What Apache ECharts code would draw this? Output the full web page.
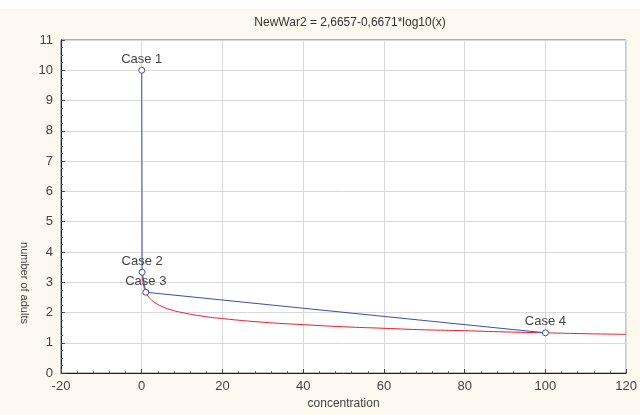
<!DOCTYPE html>
<html>
<head>
<meta charset="utf-8">
<script src="https://cdn.jsdelivr.net/npm/echarts@6/dist/echarts.min.js"></script>
<style>
  html, body { margin: 0; padding: 0; background: #fdf9f1; }
  #main { width: 640px; height: 415px; }
</style>
</head>
<body>
<div id="main"></div>
<script>
// cases (blue line with markers)
var caseNames = ["Case 1", "Case 2", "Case 3", "Case 4"];
var caseX = [0, 0.1, 1, 100];
var caseY = [10, 3.33, 2.67, 1.33];

// fitted curve (red)
var fitX = [0.1, 0.2, 0.3, 0.5, 0.7, 1, 1.5, 2, 3, 5, 7, 10, 15, 20, 30, 40, 50, 60, 70, 80, 90, 100, 110, 120];
var fitY = [3.33, 3.13, 3.02, 2.87, 2.77, 2.67, 2.55, 2.47, 2.35, 2.20, 2.10, 2.00, 1.88, 1.80, 1.68, 1.60, 1.53, 1.48, 1.43, 1.40, 1.36, 1.33, 1.30, 1.28];

var titleText = "NewWar2 = 2,6657-0,6671*log10(x)";

var chart = echarts.init(document.getElementById("main"));

var caseData = caseX.map(function (x, i) {
    return { value: [x, caseY[i]], name: caseNames[i] };
});
var fitData = fitX.map(function (x, i) { return [x, fitY[i]]; });

var font = "Liberation Sans, Arial, sans-serif";

var option = {
    backgroundColor: "#fdf9f1",
    animation: false,
    title: {
        text: titleText,
        left: 345,
        top: 12,
        textAlign: "center",
        textStyle: { fontSize: 12, fontWeight: "normal", color: "#333", fontFamily: font }
    },
    graphic: [
        { type: "rect", left: 0, top: 0, shape: { width: 640, height: 9 }, style: { fill: "#ffffff" }, z: -1 },
        {
            type: "text", x: 24, y: 283, rotation: -Math.PI / 2,
            style: { text: "number of adults", fill: "#444", font: "11px " + font, align: "center", verticalAlign: "middle" }
        }
    ],
    grid: {
        left: 61, right: 11, top: 40, bottom: 37,
        show: true, backgroundColor: "#ffffff", borderColor: "#666", borderWidth: 1
    },
    xAxis: {
        type: "value",
        min: -20, max: 120, interval: 20,
        name: "concentration",
        nameLocation: "middle",
        nameGap: 24,
        nameTextStyle: { fontSize: 12, color: "#444", fontFamily: font },
        axisLine: { onZero: false, lineStyle: { color: "#222" } },
        axisTick: { inside: true, length: 4, lineStyle: { color: "#444" } },
        minorTick: { show: true, splitNumber: 5, length: 2, lineStyle: { color: "#666" } },
        axisLabel: { fontSize: 13, color: "#444", fontFamily: font, margin: 7 },
        splitLine: { lineStyle: { color: "#d9d9d9" } }
    },
    yAxis: {
        type: "value",
        min: 0, max: 11, interval: 1,
        axisLine: { show: true, onZero: false, lineStyle: { color: "#222" } },
        axisTick: { show: true, inside: true, length: 4, lineStyle: { color: "#444" } },
        minorTick: { show: true, splitNumber: 4, length: 2, lineStyle: { color: "#666" } },
        axisLabel: { fontSize: 13, color: "#444", fontFamily: font, margin: 8 },
        splitLine: { lineStyle: { color: "#d9d9d9" } }
    },
    series: [
        {
            name: "fit",
            type: "line",
            data: fitData,
            smooth: true,
            showSymbol: false,
            lineStyle: { color: "#e8202a", width: 1 },
            z: 2
        },
        {
            name: "cases",
            type: "line",
            data: caseData,
            symbol: "circle",
            symbolSize: 6,
            itemStyle: { color: "#ffffff", borderColor: "#3a4fa8", borderWidth: 1 },
            lineStyle: { color: "#3a4fa8", width: 1 },
            label: {
                show: true,
                position: "top",
                distance: 1,
                formatter: function (p) { return p.name; },
                fontSize: 13,
                color: "#444",
                fontFamily: font
            },
            z: 3
        }
    ]
};

chart.setOption(option);
</script>
</body>
</html>
